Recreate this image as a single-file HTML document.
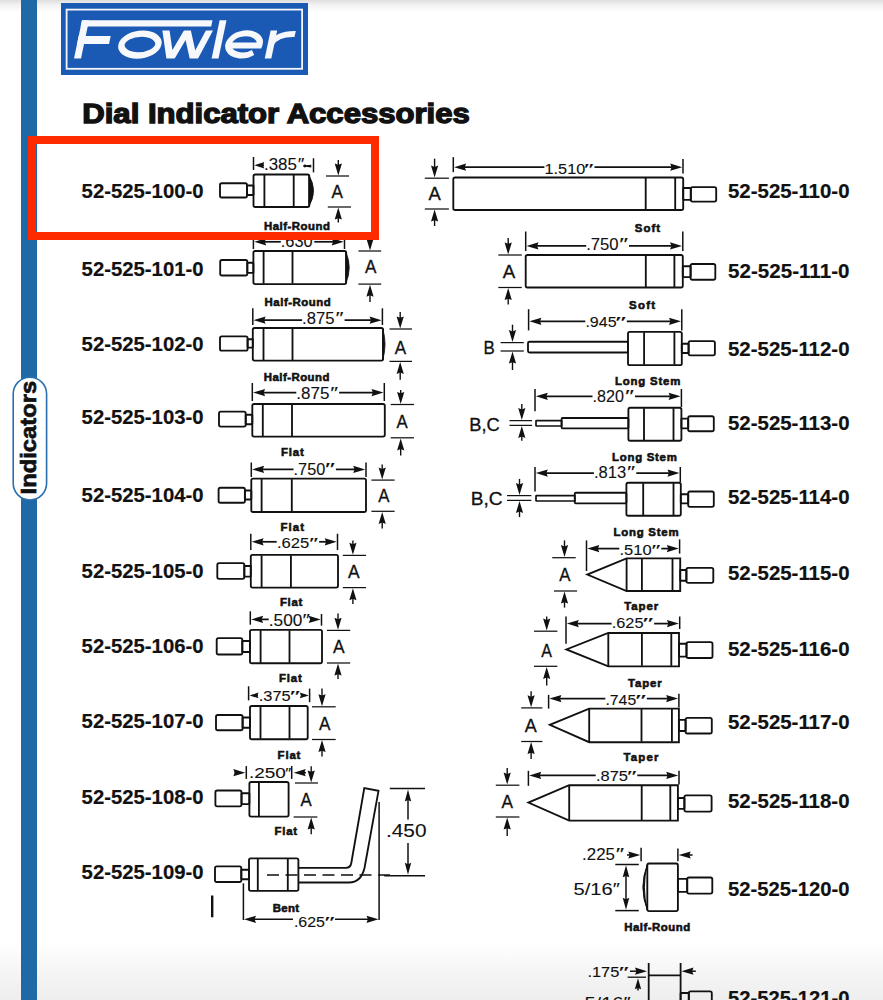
<!DOCTYPE html>
<html><head><meta charset="utf-8"><style>
html,body{margin:0;padding:0;background:#fff;}
body{width:883px;height:1000px;position:relative;overflow:hidden;
 background:linear-gradient(to bottom,#dedede 0px,#f3f3f3 5px,#fff 13px,#fff 940px,#fafafa 958px,#f3f3f3 980px,#eeeeee 1000px);}
text{font-family:"Liberation Sans",sans-serif;}
.dt{font-weight:normal;fill:#111;stroke:#111;stroke-width:0.1px;}
.at{font-weight:normal;fill:#111;stroke:#111;stroke-width:0.3px;}
.lb{font-weight:bold;fill:#111;stroke:#111;stroke-width:0.6px;}
.pn{font-weight:bold;font-size:20px;fill:#111;stroke:#111;stroke-width:0.2px;}
.hd{font-weight:bold;font-size:28.5px;fill:#111;stroke:#111;stroke-width:1.4px;}
.tb{font-weight:bold;font-size:22px;fill:#111;stroke:#111;stroke-width:0.7px;}
#bar{position:absolute;left:21px;top:0;width:16px;height:1000px;background:#1f6aa6;}
#red{position:absolute;left:28px;top:136px;width:335px;height:88px;border:8px solid #fe2a00;}
</style></head><body>
<div id="bar"></div>
<svg width="883" height="1000" viewBox="0 0 883 1000" style="position:absolute;left:0;top:0">
<rect x="13.2" y="377.2" width="33.4" height="122.8" rx="16.7" ry="16.7" fill="#fff" stroke="#2a6fb0" stroke-width="1.6"/>
<text class="tb" transform="translate(36.2,494.4) rotate(-90)" x="0" y="0" textLength="113.6" lengthAdjust="spacingAndGlyphs">Indicators</text>
</svg>
<svg width="883" height="80" viewBox="0 0 883 80" style="position:absolute;left:0;top:0">
<rect x="61" y="3" width="247" height="72" fill="#1b5ab4"/>
<rect x="66.6" y="9.6" width="235.5" height="59.2" fill="none" stroke="#f4f6fa" stroke-width="1.8"/>
<g transform="translate(12.29,0) skewX(-11.86)" fill="#f7f8fb" stroke="#f7f8fb">
<rect x="74" y="20.3" width="7" height="38.2" stroke="none"/>
<rect x="74" y="20.3" width="130.5" height="6.2" stroke="none"/>
<rect x="74" y="36" width="32" height="8" stroke="none"/>
<ellipse cx="137" cy="44.6" rx="18.4" ry="10.9" fill="none" stroke-width="6.3"/>
<clipPath id="wc"><rect x="140" y="30.6" width="80" height="27.9"/></clipPath>
<polyline clip-path="url(#wc)" points="158.5,26 170.5,60 181.5,31 194,60 205,26" fill="none" stroke-width="6.8" stroke-linejoin="miter" stroke-miterlimit="10"/>
<rect x="211.6" y="20.3" width="6.9" height="38.2" stroke="none"/>
<path d="M224,45.6 L256.6,45.6 A15.6,11 0 1 0 251.8,52.4" fill="none" stroke-width="6"/>
<rect x="264.7" y="30.4" width="6.6" height="28.1" stroke="none"/>
<path d="M268,44 Q272,33.5 290,34" fill="none" stroke-width="6"/>
</g></svg>
<svg width="883" height="1000" viewBox="0 0 883 1000" style="position:absolute;left:0;top:0"><text class="hd" x="82.3" y="123" textLength="387.5" lengthAdjust="spacingAndGlyphs">Dial Indicator Accessories</text><text class="pn" x="81.6" y="198" textLength="122" lengthAdjust="spacingAndGlyphs">52-525-100-0</text><text class="pn" x="81.6" y="275.7" textLength="122" lengthAdjust="spacingAndGlyphs">52-525-101-0</text><text class="pn" x="81.6" y="351" textLength="122" lengthAdjust="spacingAndGlyphs">52-525-102-0</text><text class="pn" x="81.6" y="424" textLength="122" lengthAdjust="spacingAndGlyphs">52-525-103-0</text><text class="pn" x="81.6" y="502" textLength="122" lengthAdjust="spacingAndGlyphs">52-525-104-0</text><text class="pn" x="81.6" y="577.6" textLength="122" lengthAdjust="spacingAndGlyphs">52-525-105-0</text><text class="pn" x="81.6" y="653" textLength="122" lengthAdjust="spacingAndGlyphs">52-525-106-0</text><text class="pn" x="81.6" y="728" textLength="122" lengthAdjust="spacingAndGlyphs">52-525-107-0</text><text class="pn" x="81.6" y="803.6" textLength="122" lengthAdjust="spacingAndGlyphs">52-525-108-0</text><text class="pn" x="81.6" y="878.7" textLength="122" lengthAdjust="spacingAndGlyphs">52-525-109-0</text><text class="pn" x="728" y="198" textLength="121.5" lengthAdjust="spacingAndGlyphs">52-525-110-0</text><text class="pn" x="728" y="278.4" textLength="121.5" lengthAdjust="spacingAndGlyphs">52-525-111-0</text><text class="pn" x="728" y="355.6" textLength="121.5" lengthAdjust="spacingAndGlyphs">52-525-112-0</text><text class="pn" x="728" y="429.6" textLength="121.5" lengthAdjust="spacingAndGlyphs">52-525-113-0</text><text class="pn" x="728" y="504.4" textLength="121.5" lengthAdjust="spacingAndGlyphs">52-525-114-0</text><text class="pn" x="728" y="580" textLength="121.5" lengthAdjust="spacingAndGlyphs">52-525-115-0</text><text class="pn" x="728" y="656.4" textLength="121.5" lengthAdjust="spacingAndGlyphs">52-525-116-0</text><text class="pn" x="728" y="729" textLength="121.5" lengthAdjust="spacingAndGlyphs">52-525-117-0</text><text class="pn" x="728" y="808.4" textLength="121.5" lengthAdjust="spacingAndGlyphs">52-525-118-0</text><text class="pn" x="728" y="895.6" textLength="121.5" lengthAdjust="spacingAndGlyphs">52-525-120-0</text><text class="pn" x="728" y="1005" textLength="121.5" lengthAdjust="spacingAndGlyphs">52-525-121-0</text></svg>
<svg width="883" height="1000" viewBox="0 0 883 1000" style="position:absolute;left:0;top:0">
<g stroke="#111" fill="#111" stroke-linecap="butt">
<rect x="220.0" y="183.2" width="27.0" height="14.3" rx="1.8" fill="none" stroke-width="1.85"/>
<rect x="247.0" y="185.5" width="6.5" height="9.5" rx="0.5" fill="none" stroke-width="1.85"/>
<rect x="253.5" y="174.5" width="55.8" height="32.5" rx="1.8" fill="none" stroke-width="1.85"/>
<line x1="264.4" y1="175.0" x2="264.4" y2="206.5" stroke-width="1.85"/>
<line x1="293.7" y1="175.0" x2="293.7" y2="206.5" stroke-width="1.85"/>
<path d="M308.8,175.0 Q318.3,190.8 308.8,206.5 Z" stroke-width="0.8"/>
<line x1="253.5" y1="157.0" x2="253.5" y2="170.0" stroke-width="1.5"/>
<line x1="313.5" y1="158.3" x2="313.5" y2="172.4" stroke-width="1.5"/>
<line x1="258.0" y1="165.2" x2="264.0" y2="165.2" stroke-width="1.5"/>
<polygon points="254.3,165.2 264.3,162.0 263.1,165.2 264.3,168.4" stroke="none"/>
<path d="M303.5,166 L310.7,165.3 L310.7,166.8 Z" stroke-width="1.2"/><circle cx="304.8" cy="166" r="1.4" stroke="none"/>
<text class="dt" x="264.0" y="170.3" font-size="16.3" textLength="32.9" lengthAdjust="spacingAndGlyphs">.385</text>
<text class="dt" x="297.7" y="170.3" font-size="16.3" textLength="6.6" lengthAdjust="spacingAndGlyphs">&#8243;</text>
<line x1="326.0" y1="176.0" x2="349.0" y2="176.0" stroke-width="1.25"/>
<line x1="327.8" y1="207.0" x2="351.0" y2="207.0" stroke-width="1.25"/>
<line x1="338.3" y1="160.0" x2="338.3" y2="170.0" stroke-width="1.4"/>
<polygon points="338.3,175.4 334.7,163.4 338.3,164.8 341.9,163.4" stroke="none"/>
<line x1="338.3" y1="213.0" x2="338.3" y2="222.5" stroke-width="1.4"/>
<polygon points="338.3,207.6 334.7,219.6 338.3,218.2 341.9,219.6" stroke="none"/>
<text class="at" x="331.6" y="198.0" font-size="18.4" textLength="11.4" lengthAdjust="spacingAndGlyphs">A</text>
<text class="lb" x="264.0" y="229.7" font-size="11.4" textLength="66.0" lengthAdjust="spacing">Half-Round</text>
<rect x="220.2" y="260.0" width="27.1" height="15.5" rx="1.8" fill="none" stroke-width="1.85"/>
<rect x="247.3" y="262.7" width="6.1" height="10.2" rx="0.5" fill="none" stroke-width="1.85"/>
<rect x="253.4" y="251.0" width="92.8" height="33.1" rx="1.8" fill="none" stroke-width="1.85"/>
<line x1="263.6" y1="251.5" x2="263.6" y2="283.6" stroke-width="1.85"/>
<line x1="292.5" y1="251.5" x2="292.5" y2="283.6" stroke-width="1.85"/>
<path d="M345.7,251.5 Q352.8,267.6 345.7,283.6 Z" stroke-width="0.8"/>
<line x1="253.4" y1="233.0" x2="253.4" y2="249.0" stroke-width="1.5"/>
<line x1="344.5" y1="233.0" x2="344.5" y2="249.0" stroke-width="1.5"/>
<line x1="259.4" y1="241.8" x2="280.8" y2="241.8" stroke-width="1.75"/>
<polygon points="254.2,241.8 266.2,238.2 264.8,241.8 266.2,245.4" stroke="none"/>
<line x1="314.3" y1="241.8" x2="338.5" y2="241.8" stroke-width="1.75"/>
<polygon points="343.7,241.8 331.7,238.2 333.1,241.8 331.7,245.4" stroke="none"/>
<text class="dt" x="280.8" y="246.7" font-size="16.2" textLength="31.9" lengthAdjust="spacingAndGlyphs">.630</text>
<line x1="358.4" y1="251.0" x2="381.2" y2="251.0" stroke-width="1.25"/>
<line x1="358.4" y1="284.1" x2="381.2" y2="284.1" stroke-width="1.25"/>
<line x1="370.0" y1="233.0" x2="370.0" y2="245.0" stroke-width="1.4"/>
<polygon points="370.0,250.4 366.4,238.4 370.0,239.8 373.6,238.4" stroke="none"/>
<line x1="370.0" y1="290.1" x2="370.0" y2="302.0" stroke-width="1.4"/>
<polygon points="370.0,284.7 366.4,296.7 370.0,295.3 373.6,296.7" stroke="none"/>
<text class="at" x="365.1" y="273.3" font-size="18.4" textLength="11.4" lengthAdjust="spacingAndGlyphs">A</text>
<text class="lb" x="264.6" y="306.0" font-size="11.4" textLength="66.1" lengthAdjust="spacing">Half-Round</text>
<rect x="220.0" y="336.4" width="27.6" height="14.3" rx="1.8" fill="none" stroke-width="1.85"/>
<rect x="247.6" y="339.2" width="5.2" height="8.4" rx="0.5" fill="none" stroke-width="1.85"/>
<rect x="252.8" y="328.0" width="130.3" height="32.6" rx="1.8" fill="none" stroke-width="1.85"/>
<line x1="263.5" y1="328.5" x2="263.5" y2="360.1" stroke-width="1.85"/>
<line x1="292.5" y1="328.5" x2="292.5" y2="360.1" stroke-width="1.85"/>
<path d="M382.6,328.5 Q387.5,344.3 382.6,360.1 Z" stroke-width="0.8"/>
<line x1="252.8" y1="308.3" x2="252.8" y2="325.0" stroke-width="1.5"/>
<line x1="382.4" y1="308.3" x2="382.4" y2="325.0" stroke-width="1.5"/>
<line x1="258.8" y1="320.2" x2="302.1" y2="320.2" stroke-width="1.75"/>
<polygon points="253.6,320.2 265.6,316.6 264.2,320.2 265.6,323.8" stroke="none"/>
<line x1="344.6" y1="320.2" x2="376.4" y2="320.2" stroke-width="1.75"/>
<polygon points="381.6,320.2 369.6,316.6 371.0,320.2 369.6,323.8" stroke="none"/>
<text class="dt" x="302.1" y="324.0" font-size="16.8" textLength="32.4" lengthAdjust="spacingAndGlyphs">.875</text>
<text class="dt" x="335.5" y="324.0" font-size="16.8" textLength="8.0" lengthAdjust="spacingAndGlyphs">&#8243;</text>
<line x1="389.5" y1="329.0" x2="412.0" y2="329.0" stroke-width="1.25"/>
<line x1="389.5" y1="361.4" x2="412.0" y2="361.4" stroke-width="1.25"/>
<line x1="400.2" y1="312.0" x2="400.2" y2="323.0" stroke-width="1.4"/>
<polygon points="400.2,328.4 396.6,316.4 400.2,317.8 403.8,316.4" stroke="none"/>
<line x1="400.2" y1="367.4" x2="400.2" y2="379.7" stroke-width="1.4"/>
<polygon points="400.2,362.0 396.6,374.0 400.2,372.6 403.8,374.0" stroke="none"/>
<text class="at" x="394.8" y="353.5" font-size="18.4" textLength="11.4" lengthAdjust="spacingAndGlyphs">A</text>
<text class="lb" x="263.8" y="381.4" font-size="11.4" textLength="65.6" lengthAdjust="spacing">Half-Round</text>
<rect x="219.0" y="411.6" width="26.7" height="15.0" rx="1.8" fill="none" stroke-width="1.85"/>
<rect x="245.7" y="414.7" width="6.6" height="9.5" rx="0.5" fill="none" stroke-width="1.85"/>
<rect x="252.3" y="404.0" width="132.5" height="32.6" rx="1.8" fill="none" stroke-width="1.85"/>
<line x1="262.8" y1="404.5" x2="262.8" y2="436.1" stroke-width="1.85"/>
<line x1="292.0" y1="404.5" x2="292.0" y2="436.1" stroke-width="1.85"/>
<line x1="252.3" y1="383.0" x2="252.3" y2="401.0" stroke-width="1.5"/>
<line x1="384.3" y1="383.0" x2="384.3" y2="401.0" stroke-width="1.5"/>
<line x1="258.3" y1="392.6" x2="296.3" y2="392.6" stroke-width="1.75"/>
<polygon points="253.1,392.6 265.1,389.0 263.7,392.6 265.1,396.2" stroke="none"/>
<line x1="339.1" y1="392.6" x2="378.3" y2="392.6" stroke-width="1.75"/>
<polygon points="383.5,392.6 371.5,389.0 372.9,392.6 371.5,396.2" stroke="none"/>
<text class="dt" x="296.3" y="399.0" font-size="16.5" textLength="33.1" lengthAdjust="spacingAndGlyphs">.875</text>
<text class="dt" x="330.2" y="399.0" font-size="16.5" textLength="7.8" lengthAdjust="spacingAndGlyphs">&#8243;</text>
<line x1="390.7" y1="404.5" x2="414.0" y2="404.5" stroke-width="1.25"/>
<line x1="390.7" y1="437.8" x2="414.0" y2="437.8" stroke-width="1.25"/>
<line x1="400.7" y1="390.0" x2="400.7" y2="398.5" stroke-width="1.4"/>
<polygon points="400.7,403.9 397.1,391.9 400.7,393.3 404.3,391.9" stroke="none"/>
<line x1="400.7" y1="443.8" x2="400.7" y2="455.6" stroke-width="1.4"/>
<polygon points="400.7,438.4 397.1,450.4 400.7,449.0 404.3,450.4" stroke="none"/>
<text class="at" x="396.5" y="427.5" font-size="18.4" textLength="11.2" lengthAdjust="spacingAndGlyphs">A</text>
<text class="lb" x="280.9" y="456.0" font-size="11.4" textLength="23.0" lengthAdjust="spacing">Flat</text>
<rect x="218.6" y="487.7" width="26.3" height="15.0" rx="1.8" fill="none" stroke-width="1.85"/>
<rect x="244.9" y="490.5" width="6.4" height="9.0" rx="0.5" fill="none" stroke-width="1.85"/>
<rect x="251.3" y="478.6" width="114.7" height="33.4" rx="1.8" fill="none" stroke-width="1.85"/>
<line x1="261.6" y1="479.1" x2="261.6" y2="511.5" stroke-width="1.85"/>
<line x1="291.8" y1="479.1" x2="291.8" y2="511.5" stroke-width="1.85"/>
<line x1="251.3" y1="462.5" x2="251.3" y2="477.0" stroke-width="1.5"/>
<line x1="366.0" y1="462.5" x2="366.0" y2="477.0" stroke-width="1.5"/>
<line x1="257.3" y1="469.4" x2="293.5" y2="469.4" stroke-width="1.75"/>
<polygon points="252.1,469.4 264.1,465.8 262.7,469.4 264.1,473.0" stroke="none"/>
<line x1="335.9" y1="469.4" x2="360.0" y2="469.4" stroke-width="1.75"/>
<polygon points="365.2,469.4 353.2,465.8 354.6,469.4 353.2,473.0" stroke="none"/>
<text class="dt" x="293.6" y="475.2" font-size="15.6" textLength="31.7" lengthAdjust="spacingAndGlyphs">.750</text>
<text class="dt" x="325.1" y="475.2" font-size="15.6" textLength="9.9" lengthAdjust="spacingAndGlyphs">&#8243;</text>
<line x1="371.4" y1="480.1" x2="394.6" y2="480.1" stroke-width="1.25"/>
<line x1="371.4" y1="511.3" x2="394.6" y2="511.3" stroke-width="1.25"/>
<line x1="382.2" y1="464.6" x2="382.2" y2="474.1" stroke-width="1.4"/>
<polygon points="382.2,479.5 378.6,467.5 382.2,468.9 385.8,467.5" stroke="none"/>
<line x1="382.2" y1="517.3" x2="382.2" y2="528.5" stroke-width="1.4"/>
<polygon points="382.2,511.9 378.6,523.9 382.2,522.5 385.8,523.9" stroke="none"/>
<text class="at" x="378.3" y="502.3" font-size="18.4" textLength="11.2" lengthAdjust="spacingAndGlyphs">A</text>
<text class="lb" x="280.6" y="530.7" font-size="11.4" textLength="23.4" lengthAdjust="spacing">Flat</text>
<rect x="217.3" y="563.1" width="27.0" height="15.8" rx="1.8" fill="none" stroke-width="1.85"/>
<rect x="244.3" y="566.0" width="6.5" height="10.6" rx="0.5" fill="none" stroke-width="1.85"/>
<rect x="250.8" y="554.8" width="87.2" height="32.8" rx="1.8" fill="none" stroke-width="1.85"/>
<line x1="261.6" y1="555.3" x2="261.6" y2="587.1" stroke-width="1.85"/>
<line x1="290.9" y1="555.3" x2="290.9" y2="587.1" stroke-width="1.85"/>
<line x1="250.8" y1="533.7" x2="250.8" y2="550.0" stroke-width="1.5"/>
<line x1="337.5" y1="533.7" x2="337.5" y2="550.0" stroke-width="1.5"/>
<line x1="256.8" y1="541.8" x2="276.7" y2="541.8" stroke-width="1.75"/>
<polygon points="251.6,541.8 263.6,538.2 262.2,541.8 263.6,545.4" stroke="none"/>
<line x1="319.1" y1="541.8" x2="331.5" y2="541.8" stroke-width="1.75"/>
<polygon points="336.7,541.8 324.7,538.2 326.1,541.8 324.7,545.4" stroke="none"/>
<text class="dt" x="276.9" y="547.8" font-size="14.8" textLength="32.4" lengthAdjust="spacingAndGlyphs">.625</text>
<text class="dt" x="309.3" y="547.8" font-size="14.8" textLength="8.8" lengthAdjust="spacingAndGlyphs">&#8243;</text>
<line x1="342.8" y1="555.4" x2="366.0" y2="555.4" stroke-width="1.25"/>
<line x1="342.8" y1="587.6" x2="366.0" y2="587.6" stroke-width="1.25"/>
<line x1="352.9" y1="540.4" x2="352.9" y2="549.4" stroke-width="1.4"/>
<polygon points="352.9,554.8 349.3,542.8 352.9,544.2 356.5,542.8" stroke="none"/>
<line x1="352.9" y1="593.6" x2="352.9" y2="604.0" stroke-width="1.4"/>
<polygon points="352.9,588.2 349.3,600.2 352.9,598.8 356.5,600.2" stroke="none"/>
<text class="at" x="348.0" y="578.0" font-size="18.4" textLength="11.6" lengthAdjust="spacingAndGlyphs">A</text>
<text class="lb" x="279.9" y="605.9" font-size="11.4" textLength="22.5" lengthAdjust="spacing">Flat</text>
<rect x="216.7" y="638.1" width="25.6" height="16.4" rx="1.8" fill="none" stroke-width="1.85"/>
<rect x="242.3" y="641.0" width="7.7" height="11.0" rx="0.5" fill="none" stroke-width="1.85"/>
<rect x="250.0" y="629.8" width="72.0" height="33.4" rx="1.8" fill="none" stroke-width="1.85"/>
<line x1="260.6" y1="630.3" x2="260.6" y2="662.7" stroke-width="1.85"/>
<line x1="289.5" y1="630.3" x2="289.5" y2="662.7" stroke-width="1.85"/>
<line x1="250.3" y1="611.3" x2="250.3" y2="624.7" stroke-width="1.5"/>
<line x1="321.5" y1="614.0" x2="321.5" y2="625.7" stroke-width="1.5"/>
<line x1="256.3" y1="619.4" x2="268.7" y2="619.4" stroke-width="1.75"/>
<polygon points="251.1,619.4 263.1,615.8 261.7,619.4 263.1,623.0" stroke="none"/>
<line x1="311.0" y1="619.4" x2="315.5" y2="619.4" stroke-width="1.75"/>
<polygon points="320.7,619.4 308.7,615.8 310.1,619.4 308.7,623.0" stroke="none"/>
<text class="dt" x="268.8" y="625.7" font-size="15.9" textLength="33.5" lengthAdjust="spacingAndGlyphs">.500</text>
<text class="dt" x="302.4" y="625.7" font-size="15.9" textLength="7.4" lengthAdjust="spacingAndGlyphs">&#8243;</text>
<line x1="327.0" y1="630.4" x2="350.2" y2="630.4" stroke-width="1.25"/>
<line x1="327.0" y1="663.0" x2="350.2" y2="663.0" stroke-width="1.25"/>
<line x1="338.0" y1="613.5" x2="338.0" y2="624.4" stroke-width="1.4"/>
<polygon points="338.0,629.8 334.4,617.8 338.0,619.2 341.6,617.8" stroke="none"/>
<line x1="338.0" y1="669.0" x2="338.0" y2="679.0" stroke-width="1.4"/>
<polygon points="338.0,663.6 334.4,675.6 338.0,674.2 341.6,675.6" stroke="none"/>
<text class="at" x="333.0" y="653.0" font-size="18.4" textLength="11.6" lengthAdjust="spacingAndGlyphs">A</text>
<text class="lb" x="278.9" y="681.8" font-size="11.4" textLength="23.0" lengthAdjust="spacing">Flat</text>
<rect x="216.0" y="715.0" width="26.6" height="15.2" rx="1.8" fill="none" stroke-width="1.85"/>
<rect x="242.6" y="717.5" width="7.4" height="10.2" rx="0.5" fill="none" stroke-width="1.85"/>
<rect x="250.0" y="706.0" width="57.7" height="33.2" rx="1.8" fill="none" stroke-width="1.85"/>
<line x1="260.5" y1="706.5" x2="260.5" y2="738.7" stroke-width="1.85"/>
<line x1="289.5" y1="706.5" x2="289.5" y2="738.7" stroke-width="1.85"/>
<line x1="248.6" y1="686.3" x2="248.6" y2="700.4" stroke-width="1.5"/>
<line x1="309.6" y1="688.6" x2="309.6" y2="702.2" stroke-width="1.5"/>
<line x1="252.0" y1="695.4" x2="258.0" y2="695.4" stroke-width="1.5"/>
<polygon points="249.5,695.4 258.5,692.6 257.4,695.4 258.5,698.2" stroke="none"/>
<line x1="301.0" y1="695.4" x2="306.0" y2="695.4" stroke-width="1.5"/>
<polygon points="308.8,695.4 299.8,692.6 300.9,695.4 299.8,698.2" stroke="none"/>
<text class="dt" x="258.8" y="701.3" font-size="14.9" textLength="31.9" lengthAdjust="spacingAndGlyphs">.375</text>
<text class="dt" x="289.8" y="701.3" font-size="14.9" textLength="10.2" lengthAdjust="spacingAndGlyphs">&#8243;</text>
<line x1="312.0" y1="706.8" x2="335.7" y2="706.8" stroke-width="1.25"/>
<line x1="312.0" y1="739.5" x2="335.7" y2="739.5" stroke-width="1.25"/>
<line x1="322.0" y1="688.6" x2="322.0" y2="700.8" stroke-width="1.4"/>
<polygon points="322.0,706.2 318.4,694.2 322.0,695.6 325.6,694.2" stroke="none"/>
<line x1="322.0" y1="745.5" x2="322.0" y2="756.5" stroke-width="1.4"/>
<polygon points="322.0,740.1 318.4,752.1 322.0,750.7 325.6,752.1" stroke="none"/>
<text class="at" x="319.0" y="730.2" font-size="18.4" textLength="11.4" lengthAdjust="spacingAndGlyphs">A</text>
<text class="lb" x="277.6" y="758.6" font-size="11.4" textLength="22.8" lengthAdjust="spacing">Flat</text>
<rect x="215.4" y="790.5" width="26.1" height="15.9" rx="1.8" fill="none" stroke-width="1.85"/>
<rect x="241.5" y="793.2" width="7.9" height="10.9" rx="0.5" fill="none" stroke-width="1.85"/>
<rect x="249.4" y="782.0" width="39.2" height="34.6" rx="1.8" fill="none" stroke-width="1.85"/>
<line x1="258.9" y1="782.5" x2="258.9" y2="816.1" stroke-width="1.85"/>
<line x1="246.3" y1="766.1" x2="246.3" y2="778.9" stroke-width="1.5"/>
<line x1="291.7" y1="766.0" x2="291.7" y2="778.9" stroke-width="1.5"/>
<line x1="234.6" y1="772.7" x2="240.0" y2="772.7" stroke-width="1.5"/>
<polygon points="245.3,772.7 233.3,769.1 234.7,772.7 233.3,776.3" stroke="none"/>
<line x1="300.0" y1="772.7" x2="306.0" y2="772.7" stroke-width="1.5"/>
<polygon points="293.7,772.7 305.7,769.1 304.3,772.7 305.7,776.3" stroke="none"/>
<text class="dt" x="249.0" y="777.8" font-size="15.1" textLength="36.9" lengthAdjust="spacingAndGlyphs">.250</text>
<text class="dt" x="285.3" y="777.8" font-size="15.1" textLength="6.0" lengthAdjust="spacingAndGlyphs">&#8243;</text>
<line x1="295.0" y1="783.0" x2="318.0" y2="783.0" stroke-width="1.25"/>
<line x1="293.6" y1="817.0" x2="317.4" y2="817.0" stroke-width="1.25"/>
<line x1="311.2" y1="766.3" x2="311.2" y2="777.0" stroke-width="1.4"/>
<polygon points="311.2,782.4 307.6,770.4 311.2,771.8 314.8,770.4" stroke="none"/>
<line x1="311.2" y1="823.0" x2="311.2" y2="834.3" stroke-width="1.4"/>
<polygon points="311.2,817.6 307.6,829.6 311.2,828.2 314.8,829.6" stroke="none"/>
<text class="at" x="300.6" y="806.0" font-size="18.4" textLength="11.2" lengthAdjust="spacingAndGlyphs">A</text>
<text class="lb" x="274.6" y="835.0" font-size="11.4" textLength="22.5" lengthAdjust="spacing">Flat</text>
<rect x="215.0" y="866.4" width="26.3" height="15.6" rx="1.8" fill="none" stroke-width="1.85"/>
<rect x="241.3" y="869.7" width="7.7" height="9.5" rx="0.5" fill="none" stroke-width="1.85"/>
<rect x="249.0" y="858.3" width="49.4" height="32.6" rx="1.8" fill="none" stroke-width="1.85"/>
<line x1="257.8" y1="858.8" x2="257.8" y2="890.4" stroke-width="1.85"/>
<line x1="287.8" y1="858.8" x2="287.8" y2="890.4" stroke-width="1.85"/>
<path d="M298.4,867.8 L346,867.8 Q350.5,867.8 351.3,863 L364.3,788 L378.5,790.8 L364.5,868 Q361,882.5 349,882.5 L298.4,882.5" fill="none" stroke-width="1.85"/>
<line x1="267" y1="875" x2="392" y2="875" stroke-width="1.3" stroke-dasharray="12,6.5"/>
<line x1="389.8" y1="788.5" x2="425.0" y2="788.5" stroke-width="1.5"/>
<line x1="384.2" y1="875.7" x2="425.0" y2="875.7" stroke-width="1.5"/>
<line x1="408.0" y1="799.0" x2="408.0" y2="819.6" stroke-width="1.5"/>
<line x1="408.0" y1="842.9" x2="408.0" y2="865.0" stroke-width="1.5"/>
<polygon points="408.0,789.5 404.8,801.5 408.0,800.1 411.2,801.5" stroke="none"/>
<polygon points="408.0,874.8 404.8,862.8 408.0,864.2 411.2,862.8" stroke="none"/>
<text class="dt" x="386.0" y="836.6" font-size="17.5" textLength="40.5" lengthAdjust="spacingAndGlyphs">.450</text>
<line x1="243.4" y1="883.3" x2="243.4" y2="920.0" stroke-width="1.5"/>
<line x1="379.1" y1="802.0" x2="379.1" y2="920.0" stroke-width="1.5"/>
<line x1="250.0" y1="919.3" x2="293.0" y2="919.3" stroke-width="1.5"/>
<polygon points="244.0,919.3 256.0,915.7 254.6,919.3 256.0,922.9" stroke="none"/>
<line x1="335.0" y1="919.3" x2="372.0" y2="919.3" stroke-width="1.5"/>
<polygon points="378.5,919.3 366.5,915.7 367.9,919.3 366.5,922.9" stroke="none"/>
<text class="dt" x="293.9" y="927.3" font-size="14.4" textLength="31.1" lengthAdjust="spacingAndGlyphs">.625</text>
<text class="dt" x="324.5" y="927.3" font-size="14.4" textLength="10.1" lengthAdjust="spacingAndGlyphs">&#8243;</text>
<text class="lb" x="272.7" y="912.3" font-size="11.4" textLength="26.3" lengthAdjust="spacing">Bent</text>
<line x1="212.2" y1="895.5" x2="212.2" y2="917.3" stroke-width="2.4"/>
<rect x="453.3" y="177.5" width="229.9" height="32.5" rx="1.8" fill="none" stroke-width="1.85"/>
<line x1="645.7" y1="178.0" x2="645.7" y2="209.5" stroke-width="1.85"/>
<line x1="675.2" y1="178.0" x2="675.2" y2="209.5" stroke-width="1.85"/>
<rect x="683.2" y="188.0" width="7.6" height="11.8" rx="0.5" fill="none" stroke-width="1.85"/>
<rect x="690.8" y="187.1" width="25.4" height="14.5" rx="1.8" fill="none" stroke-width="1.85"/>
<line x1="453.3" y1="157.1" x2="453.3" y2="172.2" stroke-width="1.5"/>
<line x1="683.0" y1="159.0" x2="683.0" y2="173.5" stroke-width="1.5"/>
<line x1="459.3" y1="167.2" x2="544.4" y2="167.2" stroke-width="1.75"/>
<polygon points="454.1,167.2 466.1,163.6 464.7,167.2 466.1,170.8" stroke="none"/>
<line x1="594.5" y1="167.2" x2="677.0" y2="167.2" stroke-width="1.75"/>
<polygon points="682.2,167.2 670.2,163.6 671.6,167.2 670.2,170.8" stroke="none"/>
<text class="dt" x="544.6" y="173.6" font-size="14.9" textLength="40.6" lengthAdjust="spacingAndGlyphs">1.510</text>
<text class="dt" x="584.1" y="173.6" font-size="14.9" textLength="9.5" lengthAdjust="spacingAndGlyphs">&#8243;</text>
<line x1="424.8" y1="178.2" x2="448.9" y2="178.2" stroke-width="1.25"/>
<line x1="424.8" y1="209.0" x2="448.9" y2="209.0" stroke-width="1.25"/>
<line x1="434.6" y1="158.7" x2="434.6" y2="172.2" stroke-width="1.4"/>
<polygon points="434.6,177.6 431.0,165.6 434.6,167.0 438.2,165.6" stroke="none"/>
<line x1="434.6" y1="215.0" x2="434.6" y2="226.0" stroke-width="1.4"/>
<polygon points="434.6,209.6 431.0,221.6 434.6,220.2 438.2,221.6" stroke="none"/>
<text class="at" x="428.5" y="199.5" font-size="18.4" textLength="12.3" lengthAdjust="spacingAndGlyphs">A</text>
<text class="lb" x="634.8" y="231.5" font-size="11.4" textLength="25.3" lengthAdjust="spacing">Soft</text>
<rect x="525.7" y="255.0" width="157.1" height="32.5" rx="1.8" fill="none" stroke-width="1.85"/>
<line x1="645.8" y1="255.5" x2="645.8" y2="287.0" stroke-width="1.85"/>
<line x1="674.4" y1="255.5" x2="674.4" y2="287.0" stroke-width="1.85"/>
<rect x="682.8" y="266.2" width="7.8" height="10.9" rx="0.5" fill="none" stroke-width="1.85"/>
<rect x="690.6" y="264.0" width="24.7" height="15.7" rx="1.8" fill="none" stroke-width="1.85"/>
<line x1="525.7" y1="231.5" x2="525.7" y2="251.0" stroke-width="1.5"/>
<line x1="682.8" y1="231.5" x2="682.8" y2="251.0" stroke-width="1.5"/>
<line x1="531.7" y1="245.9" x2="586.2" y2="245.9" stroke-width="1.75"/>
<polygon points="526.5,245.9 538.5,242.3 537.1,245.9 538.5,249.5" stroke="none"/>
<line x1="629.0" y1="245.9" x2="676.8" y2="245.9" stroke-width="1.75"/>
<polygon points="682.0,245.9 670.0,242.3 671.4,245.9 670.0,249.5" stroke="none"/>
<text class="dt" x="586.2" y="250.4" font-size="16.6" textLength="32.4" lengthAdjust="spacingAndGlyphs">.750</text>
<text class="dt" x="619.2" y="250.4" font-size="16.6" textLength="8.8" lengthAdjust="spacingAndGlyphs">&#8243;</text>
<line x1="498.3" y1="255.0" x2="521.8" y2="255.0" stroke-width="1.25"/>
<line x1="498.3" y1="287.5" x2="521.8" y2="287.5" stroke-width="1.25"/>
<line x1="508.2" y1="238.0" x2="508.2" y2="249.0" stroke-width="1.4"/>
<polygon points="508.2,254.4 504.6,242.4 508.2,243.8 511.8,242.4" stroke="none"/>
<line x1="508.2" y1="293.5" x2="508.2" y2="304.5" stroke-width="1.4"/>
<polygon points="508.2,288.1 504.6,300.1 508.2,298.7 511.8,300.1" stroke="none"/>
<text class="at" x="502.8" y="278.4" font-size="18.4" textLength="12.5" lengthAdjust="spacingAndGlyphs">A</text>
<text class="lb" x="629.0" y="309.3" font-size="11.4" textLength="26.0" lengthAdjust="spacing">Soft</text>
<rect x="528.0" y="341.7" width="100.0" height="10.8" rx="1.5" fill="none" stroke-width="1.85"/>
<rect x="628.0" y="331.8" width="53.8" height="33.4" rx="1.8" fill="none" stroke-width="1.85"/>
<line x1="644.1" y1="332.3" x2="644.1" y2="364.7" stroke-width="1.85"/>
<line x1="674.4" y1="332.3" x2="674.4" y2="364.7" stroke-width="1.85"/>
<rect x="681.8" y="343.7" width="6.8" height="9.3" rx="0.5" fill="none" stroke-width="1.85"/>
<rect x="688.6" y="341.1" width="26.3" height="14.2" rx="1.8" fill="none" stroke-width="1.85"/>
<line x1="528.6" y1="309.2" x2="528.6" y2="330.4" stroke-width="1.5"/>
<line x1="681.8" y1="309.2" x2="681.8" y2="330.4" stroke-width="1.5"/>
<line x1="534.6" y1="321.3" x2="585.3" y2="321.3" stroke-width="1.75"/>
<polygon points="529.4,321.3 541.4,317.7 540.0,321.3 541.4,324.9" stroke="none"/>
<line x1="626.8" y1="321.3" x2="675.8" y2="321.3" stroke-width="1.75"/>
<polygon points="681.0,321.3 669.0,317.7 670.4,321.3 669.0,324.9" stroke="none"/>
<text class="dt" x="585.4" y="327.2" font-size="15.4" textLength="31.2" lengthAdjust="spacingAndGlyphs">.945</text>
<text class="dt" x="615.3" y="327.2" font-size="15.4" textLength="10.8" lengthAdjust="spacingAndGlyphs">&#8243;</text>
<line x1="500.6" y1="342.6" x2="523.8" y2="342.6" stroke-width="1.25"/>
<line x1="500.6" y1="351.0" x2="523.8" y2="351.0" stroke-width="1.25"/>
<line x1="512.5" y1="324.7" x2="512.5" y2="336.6" stroke-width="1.4"/>
<polygon points="512.5,342.0 508.9,330.0 512.5,331.4 516.1,330.0" stroke="none"/>
<line x1="512.5" y1="357.0" x2="512.5" y2="370.0" stroke-width="1.4"/>
<polygon points="512.5,351.6 508.9,363.6 512.5,362.2 516.1,363.6" stroke="none"/>
<text class="at" x="483.4" y="353.9" font-size="18.4" textLength="11.3" lengthAdjust="spacingAndGlyphs">B</text>
<text class="lb" x="614.9" y="384.8" font-size="11.4" textLength="65.5" lengthAdjust="spacing">Long Stem</text>
<rect x="561.6" y="418.0" width="66.8" height="10.3" rx="1" fill="none" stroke-width="1.85"/>
<rect x="536.0" y="420.6" width="25.6" height="5.4" rx="0.5" fill="none" stroke-width="1.7"/>
<rect x="628.4" y="407.7" width="53.0" height="33.0" rx="1.8" fill="none" stroke-width="1.85"/>
<line x1="644.0" y1="408.2" x2="644.0" y2="440.2" stroke-width="1.85"/>
<line x1="673.5" y1="408.2" x2="673.5" y2="440.2" stroke-width="1.85"/>
<rect x="681.4" y="418.6" width="6.8" height="9.7" rx="0.5" fill="none" stroke-width="1.85"/>
<rect x="688.2" y="416.2" width="25.6" height="15.0" rx="1.8" fill="none" stroke-width="1.85"/>
<line x1="535.0" y1="389.0" x2="535.0" y2="411.2" stroke-width="1.5"/>
<line x1="681.4" y1="389.0" x2="681.4" y2="407.0" stroke-width="1.5"/>
<line x1="541.0" y1="396.3" x2="592.5" y2="396.3" stroke-width="1.75"/>
<polygon points="535.8,396.3 547.8,392.7 546.4,396.3 547.8,399.9" stroke="none"/>
<line x1="635.0" y1="396.3" x2="675.4" y2="396.3" stroke-width="1.75"/>
<polygon points="680.6,396.3 668.6,392.7 670.0,396.3 668.6,399.9" stroke="none"/>
<text class="dt" x="592.6" y="402.2" font-size="15.9" textLength="31.4" lengthAdjust="spacingAndGlyphs">.820</text>
<text class="dt" x="625.1" y="402.2" font-size="15.9" textLength="9.0" lengthAdjust="spacingAndGlyphs">&#8243;</text>
<line x1="509.5" y1="420.6" x2="532.1" y2="420.6" stroke-width="1.25"/>
<line x1="509.5" y1="425.4" x2="532.1" y2="425.4" stroke-width="1.25"/>
<line x1="521.8" y1="403.9" x2="521.8" y2="414.6" stroke-width="1.4"/>
<polygon points="521.8,420.0 518.2,408.0 521.8,409.4 525.4,408.0" stroke="none"/>
<line x1="521.8" y1="431.4" x2="521.8" y2="440.7" stroke-width="1.4"/>
<polygon points="521.8,426.0 518.2,438.0 521.8,436.6 525.4,438.0" stroke="none"/>
<text class="at" x="469.3" y="431.2" font-size="18.3" textLength="30.5" lengthAdjust="spacingAndGlyphs">B,C</text>
<text class="lb" x="612.1" y="461.2" font-size="11.4" textLength="64.7" lengthAdjust="spacing">Long Stem</text>
<rect x="574.8" y="492.7" width="51.6" height="10.6" rx="1" fill="none" stroke-width="1.85"/>
<rect x="536.0" y="495.6" width="38.8" height="5.4" rx="0.5" fill="none" stroke-width="1.7"/>
<rect x="626.4" y="482.7" width="54.4" height="33.0" rx="1.8" fill="none" stroke-width="1.85"/>
<line x1="643.2" y1="483.2" x2="643.2" y2="515.2" stroke-width="1.85"/>
<line x1="673.5" y1="483.2" x2="673.5" y2="515.2" stroke-width="1.85"/>
<rect x="680.8" y="494.2" width="7.4" height="9.1" rx="0.5" fill="none" stroke-width="1.85"/>
<rect x="688.2" y="491.5" width="25.6" height="15.3" rx="1.8" fill="none" stroke-width="1.85"/>
<line x1="535.0" y1="467.0" x2="535.0" y2="491.5" stroke-width="1.5"/>
<line x1="680.3" y1="467.0" x2="680.3" y2="482.0" stroke-width="1.5"/>
<line x1="541.0" y1="473.1" x2="593.9" y2="473.1" stroke-width="1.75"/>
<polygon points="535.8,473.1 547.8,469.5 546.4,473.1 547.8,476.7" stroke="none"/>
<line x1="636.3" y1="473.1" x2="674.3" y2="473.1" stroke-width="1.75"/>
<polygon points="679.5,473.1 667.5,469.5 668.9,473.1 667.5,476.7" stroke="none"/>
<text class="dt" x="594.0" y="477.6" font-size="15.9" textLength="32.3" lengthAdjust="spacingAndGlyphs">.813</text>
<text class="dt" x="627.1" y="477.6" font-size="15.9" textLength="8.1" lengthAdjust="spacingAndGlyphs">&#8243;</text>
<line x1="507.0" y1="495.6" x2="531.3" y2="495.6" stroke-width="1.25"/>
<line x1="507.0" y1="500.4" x2="531.3" y2="500.4" stroke-width="1.25"/>
<line x1="519.5" y1="478.9" x2="519.5" y2="489.6" stroke-width="1.4"/>
<polygon points="519.5,495.0 515.9,483.0 519.5,484.4 523.1,483.0" stroke="none"/>
<line x1="519.5" y1="506.4" x2="519.5" y2="517.1" stroke-width="1.4"/>
<polygon points="519.5,501.0 515.9,513.0 519.5,511.6 523.1,513.0" stroke="none"/>
<text class="at" x="470.8" y="505.4" font-size="18.3" textLength="31.9" lengthAdjust="spacingAndGlyphs">B,C</text>
<text class="lb" x="613.4" y="536.3" font-size="11.4" textLength="65.2" lengthAdjust="spacing">Long Stem</text>
<path d="M680.2,558.3 L626.6,558.3 L587.3,574.6 L626.6,591.0 L680.2,591.0 Z" fill="none" stroke-width="1.85" stroke-linejoin="miter"/>
<line x1="626.6" y1="558.3" x2="626.6" y2="591.0" stroke-width="1.85"/>
<line x1="641.9" y1="558.8" x2="641.9" y2="590.5" stroke-width="1.85"/>
<line x1="672.5" y1="558.8" x2="672.5" y2="590.5" stroke-width="1.85"/>
<rect x="680.2" y="570.0" width="6.2" height="10.7" rx="0.5" fill="none" stroke-width="1.85"/>
<rect x="686.4" y="567.9" width="26.9" height="14.9" rx="1.8" fill="none" stroke-width="1.85"/>
<line x1="586.5" y1="540.4" x2="586.5" y2="571.0" stroke-width="1.5"/>
<line x1="679.6" y1="539.4" x2="679.6" y2="553.6" stroke-width="1.5"/>
<line x1="592.5" y1="548.6" x2="619.3" y2="548.6" stroke-width="1.75"/>
<polygon points="587.3,548.6 599.3,545.0 597.9,548.6 599.3,552.2" stroke="none"/>
<line x1="661.3" y1="548.6" x2="673.6" y2="548.6" stroke-width="1.75"/>
<polygon points="678.8,548.6 666.8,545.0 668.2,548.6 666.8,552.2" stroke="none"/>
<text class="dt" x="619.4" y="554.5" font-size="15.4" textLength="32.2" lengthAdjust="spacingAndGlyphs">.510</text>
<text class="dt" x="651.5" y="554.5" font-size="15.4" textLength="8.8" lengthAdjust="spacingAndGlyphs">&#8243;</text>
<line x1="552.2" y1="557.7" x2="575.7" y2="557.7" stroke-width="1.25"/>
<line x1="553.9" y1="591.0" x2="577.1" y2="591.0" stroke-width="1.25"/>
<line x1="564.5" y1="540.4" x2="564.5" y2="551.7" stroke-width="1.4"/>
<polygon points="564.5,557.1 560.9,545.1 564.5,546.5 568.1,545.1" stroke="none"/>
<line x1="564.5" y1="597.0" x2="564.5" y2="607.6" stroke-width="1.4"/>
<polygon points="564.5,591.6 560.9,603.6 564.5,602.2 568.1,603.6" stroke="none"/>
<text class="at" x="559.2" y="581.2" font-size="18.4" textLength="11.2" lengthAdjust="spacingAndGlyphs">A</text>
<text class="lb" x="624.2" y="609.6" font-size="11.4" textLength="33.9" lengthAdjust="spacing">Taper</text>
<path d="M679.0,633.0 L608.3,633.0 L566.4,649.4 L608.3,666.3 L679.0,666.3 Z" fill="none" stroke-width="1.85" stroke-linejoin="miter"/>
<line x1="608.3" y1="633.0" x2="608.3" y2="666.3" stroke-width="1.85"/>
<line x1="641.9" y1="633.5" x2="641.9" y2="665.8" stroke-width="1.85"/>
<line x1="671.3" y1="633.5" x2="671.3" y2="665.8" stroke-width="1.85"/>
<rect x="679.0" y="643.7" width="7.5" height="12.9" rx="0.5" fill="none" stroke-width="1.85"/>
<rect x="686.5" y="642.1" width="26.0" height="15.9" rx="1.8" fill="none" stroke-width="1.85"/>
<line x1="566.0" y1="616.5" x2="566.0" y2="643.7" stroke-width="1.5"/>
<line x1="679.7" y1="616.5" x2="679.7" y2="629.0" stroke-width="1.5"/>
<line x1="572.0" y1="623.6" x2="611.6" y2="623.6" stroke-width="1.75"/>
<polygon points="566.8,623.6 578.8,620.0 577.4,623.6 578.8,627.2" stroke="none"/>
<line x1="654.1" y1="623.6" x2="673.7" y2="623.6" stroke-width="1.75"/>
<polygon points="678.9,623.6 666.9,620.0 668.3,623.6 666.9,627.2" stroke="none"/>
<text class="dt" x="611.7" y="627.7" font-size="15.4" textLength="31.8" lengthAdjust="spacingAndGlyphs">.625</text>
<text class="dt" x="642.6" y="627.7" font-size="15.4" textLength="10.8" lengthAdjust="spacingAndGlyphs">&#8243;</text>
<line x1="534.0" y1="631.2" x2="557.4" y2="631.2" stroke-width="1.25"/>
<line x1="534.0" y1="666.3" x2="557.4" y2="666.3" stroke-width="1.25"/>
<line x1="546.7" y1="616.5" x2="546.7" y2="625.2" stroke-width="1.4"/>
<polygon points="546.7,630.6 543.1,618.6 546.7,620.0 550.3,618.6" stroke="none"/>
<line x1="546.7" y1="672.3" x2="546.7" y2="685.6" stroke-width="1.4"/>
<polygon points="546.7,666.9 543.1,678.9 546.7,677.5 550.3,678.9" stroke="none"/>
<text class="at" x="541.3" y="656.6" font-size="18.4" textLength="10.7" lengthAdjust="spacingAndGlyphs">A</text>
<text class="lb" x="627.9" y="687.4" font-size="11.4" textLength="33.9" lengthAdjust="spacing">Taper</text>
<path d="M678.9,708.6 L589.2,708.6 L549.8,724.8 L589.2,742.2 L678.9,742.2 Z" fill="none" stroke-width="1.85" stroke-linejoin="miter"/>
<line x1="589.2" y1="708.6" x2="589.2" y2="742.2" stroke-width="1.85"/>
<line x1="641.5" y1="709.1" x2="641.5" y2="741.7" stroke-width="1.85"/>
<line x1="671.9" y1="709.1" x2="671.9" y2="741.7" stroke-width="1.85"/>
<rect x="678.9" y="719.8" width="6.7" height="11.2" rx="0.5" fill="none" stroke-width="1.85"/>
<rect x="685.6" y="717.8" width="26.2" height="15.7" rx="1.8" fill="none" stroke-width="1.85"/>
<line x1="548.6" y1="694.9" x2="548.6" y2="708.6" stroke-width="1.5"/>
<line x1="678.9" y1="693.7" x2="678.9" y2="707.4" stroke-width="1.5"/>
<line x1="554.6" y1="698.6" x2="605.3" y2="698.6" stroke-width="1.75"/>
<polygon points="549.4,698.6 561.4,695.0 560.0,698.6 561.4,702.2" stroke="none"/>
<line x1="646.8" y1="698.6" x2="672.9" y2="698.6" stroke-width="1.75"/>
<polygon points="678.1,698.6 666.1,695.0 667.5,698.6 666.1,702.2" stroke="none"/>
<text class="dt" x="605.4" y="704.5" font-size="15.4" textLength="30.8" lengthAdjust="spacingAndGlyphs">.745</text>
<text class="dt" x="635.3" y="704.5" font-size="15.4" textLength="10.8" lengthAdjust="spacingAndGlyphs">&#8243;</text>
<line x1="521.2" y1="707.9" x2="542.4" y2="707.9" stroke-width="1.25"/>
<line x1="521.2" y1="741.5" x2="542.4" y2="741.5" stroke-width="1.25"/>
<line x1="531.1" y1="691.2" x2="531.1" y2="701.9" stroke-width="1.4"/>
<polygon points="531.1,707.3 527.5,695.3 531.1,696.7 534.7,695.3" stroke="none"/>
<line x1="531.1" y1="747.5" x2="531.1" y2="759.0" stroke-width="1.4"/>
<polygon points="531.1,742.1 527.5,754.1 531.1,752.7 534.7,754.1" stroke="none"/>
<text class="at" x="524.7" y="731.8" font-size="18.4" textLength="12.0" lengthAdjust="spacingAndGlyphs">A</text>
<text class="lb" x="623.6" y="761.3" font-size="11.4" textLength="34.8" lengthAdjust="spacing">Taper</text>
<path d="M677.9,785.2 L569.2,785.2 L528.4,802.6 L569.2,820.6 L677.9,820.6 Z" fill="none" stroke-width="1.85" stroke-linejoin="miter"/>
<line x1="569.2" y1="785.2" x2="569.2" y2="820.6" stroke-width="1.85"/>
<line x1="641.7" y1="785.7" x2="641.7" y2="820.1" stroke-width="1.85"/>
<line x1="670.3" y1="785.7" x2="670.3" y2="820.1" stroke-width="1.85"/>
<rect x="677.9" y="798.0" width="6.5" height="10.9" rx="0.5" fill="none" stroke-width="1.85"/>
<rect x="684.4" y="795.3" width="27.2" height="16.3" rx="1.8" fill="none" stroke-width="1.85"/>
<line x1="528.4" y1="770.8" x2="528.4" y2="785.8" stroke-width="1.5"/>
<line x1="679.0" y1="770.8" x2="679.0" y2="784.4" stroke-width="1.5"/>
<line x1="534.4" y1="775.4" x2="595.7" y2="775.4" stroke-width="1.75"/>
<polygon points="529.2,775.4 541.2,771.8 539.8,775.4 541.2,779.0" stroke="none"/>
<line x1="637.3" y1="775.4" x2="673.0" y2="775.4" stroke-width="1.75"/>
<polygon points="678.2,775.4 666.2,771.8 667.6,775.4 666.2,779.0" stroke="none"/>
<text class="dt" x="595.9" y="780.8" font-size="14.6" textLength="32.1" lengthAdjust="spacingAndGlyphs">.875</text>
<text class="dt" x="626.9" y="780.8" font-size="14.6" textLength="9.5" lengthAdjust="spacingAndGlyphs">&#8243;</text>
<line x1="495.8" y1="785.2" x2="519.4" y2="785.2" stroke-width="1.25"/>
<line x1="495.8" y1="817.0" x2="519.4" y2="817.0" stroke-width="1.25"/>
<line x1="507.2" y1="768.1" x2="507.2" y2="779.2" stroke-width="1.4"/>
<polygon points="507.2,784.6 503.6,772.6 507.2,774.0 510.8,772.6" stroke="none"/>
<line x1="507.2" y1="823.0" x2="507.2" y2="836.0" stroke-width="1.4"/>
<polygon points="507.2,817.6 503.6,829.6 507.2,828.2 510.8,829.6" stroke="none"/>
<text class="at" x="501.5" y="808.1" font-size="18.4" textLength="11.5" lengthAdjust="spacingAndGlyphs">A</text>
<rect x="647.3" y="863.5" width="30.6" height="47.6" rx="1.8" fill="none" stroke-width="1.85"/>
<path d="M647.3,864.5 Q638.5,887.3 647.3,910.1 Q641.5,887.3 647.3,864.5 Z" stroke-width="1"/>
<rect x="677.9" y="878.8" width="9.3" height="13.1" rx="0.5" fill="none" stroke-width="1.85"/>
<rect x="687.2" y="877.5" width="25.1" height="16.1" rx="1.8" fill="none" stroke-width="1.85"/>
<line x1="641.1" y1="847.7" x2="641.1" y2="861.3" stroke-width="1.5"/>
<line x1="677.9" y1="848.6" x2="677.9" y2="861.3" stroke-width="1.5"/>
<line x1="627.0" y1="855.0" x2="634.0" y2="855.0" stroke-width="1.5"/>
<polygon points="640.3,855.0 628.3,851.4 629.7,855.0 628.3,858.6" stroke="none"/>
<line x1="686.0" y1="855.0" x2="692.6" y2="855.0" stroke-width="1.5"/>
<polygon points="678.7,855.0 690.7,851.4 689.3,855.0 690.7,858.6" stroke="none"/>
<text class="dt" x="582.1" y="859.5" font-size="16.6" textLength="32.8" lengthAdjust="spacingAndGlyphs">.225</text>
<text class="dt" x="615.7" y="859.5" font-size="16.6" textLength="8.3" lengthAdjust="spacingAndGlyphs">&#8243;</text>
<line x1="615.3" y1="864.5" x2="638.8" y2="864.5" stroke-width="1.5"/>
<line x1="615.3" y1="910.6" x2="638.8" y2="910.6" stroke-width="1.5"/>
<line x1="626.0" y1="874.0" x2="626.0" y2="901.0" stroke-width="1.5"/>
<polygon points="626.0,865.3 622.7,877.3 626.0,875.9 629.3,877.3" stroke="none"/>
<polygon points="626.0,909.8 622.7,897.8 626.0,899.2 629.3,897.8" stroke="none"/>
<text class="dt" x="573.6" y="895.3" font-size="16.9" textLength="46.2" lengthAdjust="spacingAndGlyphs">5/16&#8243;</text>
<text class="lb" x="624.3" y="930.5" font-size="11.4" textLength="65.9" lengthAdjust="spacing">Half-Round</text>
<text class="dt" x="587.4" y="977.2" font-size="14.5" textLength="32.0" lengthAdjust="spacingAndGlyphs">.175</text>
<text class="dt" x="618.8" y="977.2" font-size="14.5" textLength="9.9" lengthAdjust="spacingAndGlyphs">&#8243;</text>
<line x1="630.0" y1="971.2" x2="638.0" y2="971.2" stroke-width="1.5"/>
<polygon points="647.0,971.2 635.0,967.6 636.4,971.2 635.0,974.8" stroke="none"/>
<line x1="648.7" y1="963.0" x2="648.7" y2="1000.0" stroke-width="1.8"/>
<line x1="680.6" y1="963.0" x2="680.6" y2="1000.0" stroke-width="1.8"/>
<line x1="648.7" y1="975.4" x2="680.6" y2="975.4" stroke-width="1.85"/>
<line x1="688.0" y1="971.2" x2="695.8" y2="971.2" stroke-width="1.5"/>
<polygon points="681.5,971.2 693.5,967.6 692.1,971.2 693.5,974.8" stroke="none"/>
<line x1="627.6" y1="977.2" x2="646.0" y2="977.2" stroke-width="1.3"/>
<line x1="638.0" y1="987.0" x2="638.0" y2="990.5" stroke-width="1.5"/>
<polygon points="638.0,978.3 634.8,989.3 638.0,988.0 641.2,989.3" stroke="none"/>
<rect x="680.6" y="993.0" width="8.2" height="11.0" rx="0.5" fill="none" stroke-width="1.85"/>
<rect x="688.8" y="991.4" width="23.0" height="14.6" rx="1.8" fill="none" stroke-width="1.85"/>
<text class="dt" x="584.5" y="1009.0" font-size="16.9" textLength="46.0" lengthAdjust="spacingAndGlyphs">5/16&#8243;</text>
</g></svg>
<div id="red"></div>
</body></html>
